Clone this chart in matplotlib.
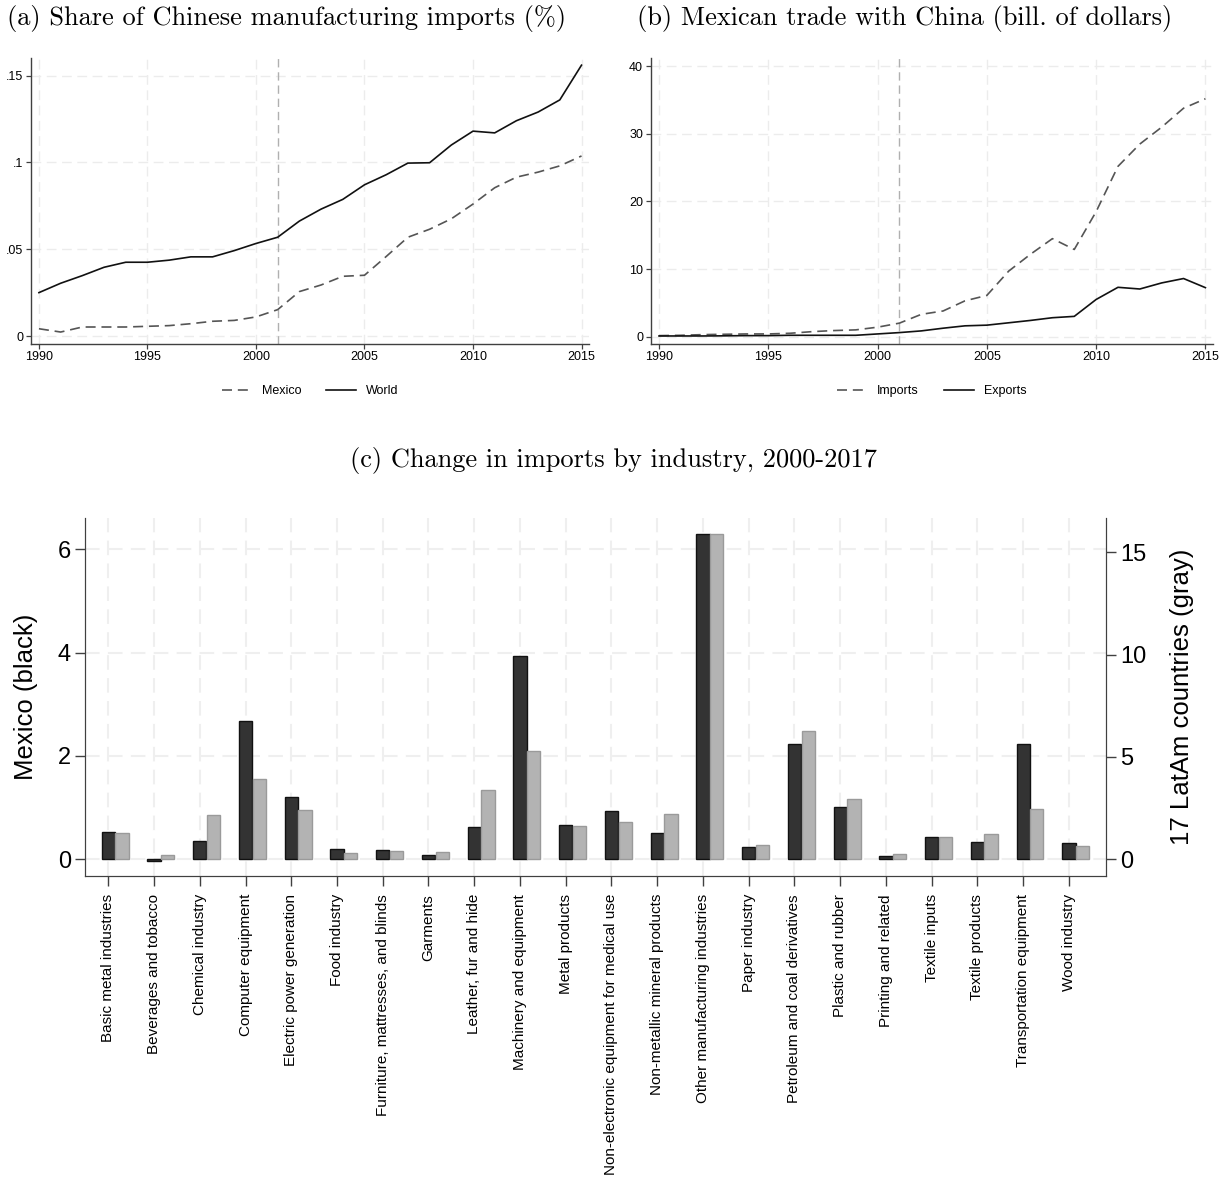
import matplotlib
matplotlib.use("Agg")
import matplotlib.pyplot as plt
import numpy as np

# ---------------- data ----------------
years = list(range(1990, 2016))
share_world = [0.025, 0.0304, 0.0348, 0.0396, 0.0425, 0.0425, 0.0437, 0.0456, 0.0456, 0.0492,
               0.0533, 0.0569, 0.0662, 0.0731, 0.0787, 0.0871, 0.0929, 0.0996, 0.0998, 0.110,
               0.118, 0.117, 0.124, 0.129, 0.136, 0.156]
share_mexico = [0.0042, 0.0023, 0.0052, 0.0052, 0.0052, 0.0056, 0.0060, 0.0071, 0.0085, 0.0090,
                0.0110, 0.0152, 0.0256, 0.0294, 0.0344, 0.0350, 0.0458, 0.0569, 0.0615, 0.0675,
                0.0760, 0.0854, 0.0915, 0.0944, 0.0980, 0.1037]
imports_bn = [0.15, 0.2, 0.3, 0.35, 0.4, 0.4, 0.5, 0.74, 0.9, 1.0,
              1.4, 2.0, 3.3, 3.8, 5.3, 6.1, 9.7, 12.2, 14.5, 12.9,
              18.5, 25.2, 28.5, 31.0, 33.8, 35.2]
exports_bn = [0.1, 0.1, 0.1, 0.12, 0.15, 0.15, 0.2, 0.2, 0.2, 0.2,
              0.4, 0.6, 0.85, 1.25, 1.6, 1.7, 2.05, 2.4, 2.8, 3.0,
              5.5, 7.3, 7.05, 7.95, 8.6, 7.25]
year_ticks = [1990, 1995, 2000, 2005, 2010, 2015]
share_ticks = [0, 0.05, 0.1, 0.15]
share_ticklabels = ["0", ".05", ".1", ".15"]
trade_ticks = [0, 10, 20, 30, 40]
event_year = 2001

industries = ["Basic metal industries", "Beverages and tobacco", "Chemical industry",
              "Computer equipment", "Electric power generation", "Food industry",
              "Furniture, mattresses, and blinds", "Garments", "Leather, fur and hide",
              "Machinery and equipment", "Metal products",
              "Non-electronic equipment for medical use", "Non-metallic mineral products",
              "Other manufacturing industries", "Paper industry",
              "Petroleum and coal derivatives", "Plastic and rubber", "Printing and related",
              "Textile inputs", "Textile products", "Transportation equipment", "Wood industry"]
mexico_change = [0.52, -0.03, 0.35, 2.67, 1.20, 0.19, 0.17, 0.08, 0.63, 3.93, 0.66,
                 0.93, 0.51, 6.30, 0.23, 2.23, 1.01, 0.06, 0.44, 0.33, 2.24, 0.31]
latam_change = [1.27, 0.20, 2.16, 3.91, 2.39, 0.31, 0.39, 0.34, 3.37, 5.28, 1.61,
                1.81, 2.21, 15.88, 0.68, 6.27, 2.93, 0.24, 1.10, 1.22, 2.47, 0.66]
left_ticks = [0, 2, 4, 6]
right_ticks = [0, 5, 10, 15]

# ---------------- style ----------------
plt.rcParams['font.family'] = ['Liberation Sans', 'DejaVu Sans']
TITLE_FONT = ['cmr10', 'DejaVu Serif']
TITLE_SIZE = 19
GRID = dict(color='#ececec', linestyle=(0, (7, 4)), linewidth=1.0)
SPINE = '#404040'

fig = plt.figure(figsize=(12.28, 11.81), dpi=100)

def style_line_axes(ax):
    for s in ['top', 'right']:
        ax.spines[s].set_visible(False)
    for s in ['left', 'bottom']:
        ax.spines[s].set_color(SPINE)
        ax.spines[s].set_linewidth(1.0)
    ax.tick_params(axis='both', length=3.5, width=0.9, color=SPINE, labelsize=9, pad=2)
    ax.set_axisbelow(True)
    ax.grid(True, **GRID)
    ax.set_xticks(year_ticks)
    ax.set_xlim(1989.62, 2015.36)

# Panel (a)
axa = fig.add_axes([0.025, 0.709, 0.4549, 0.2417])
style_line_axes(axa)
axa.axvline(event_year, color='#b0b0b0', linestyle=(0, (6, 3.5)), linewidth=1.0, zorder=1)
axa.plot(years, share_mexico, color='#555555', linestyle=(0, (6, 3.5)), linewidth=1.2, label='Mexico')
axa.plot(years, share_world, color='#111111', linewidth=1.2, label='World')
axa.set_yticks(share_ticks)
axa.set_yticklabels(share_ticklabels)
axa.set_ylim(-0.0044, 0.160)
axa.legend(loc='center', bbox_to_anchor=(0.5, -0.166), ncol=2, frameon=False,
           fontsize=9, handlelength=2.4, columnspacing=2.0)
fig.text(0.2335, 0.984, "(a) Share of Chinese manufacturing imports (%)", family=TITLE_FONT,
         fontsize=TITLE_SIZE, ha='center', va='center')

# Panel (b)
axb = fig.add_axes([0.5299, 0.709, 0.4581, 0.2417])
style_line_axes(axb)
axb.axvline(event_year, color='#b0b0b0', linestyle=(0, (6, 3.5)), linewidth=1.0, zorder=1)
axb.plot(years, imports_bn, color='#555555', linestyle=(0, (6, 3.5)), linewidth=1.2, label='Imports')
axb.plot(years, exports_bn, color='#111111', linewidth=1.2, label='Exports')
axb.set_yticks(trade_ticks)
axb.set_ylim(-1.04, 41.2)
axb.legend(loc='center', bbox_to_anchor=(0.5, -0.166), ncol=2, frameon=False,
           fontsize=9, handlelength=2.4, columnspacing=2.0)
fig.text(0.737, 0.984, "(b) Mexican trade with China (bill. of dollars)", family=TITLE_FONT,
         fontsize=TITLE_SIZE, ha='center', va='center')

# Panel (c)
axc = fig.add_axes([0.0692, 0.2583, 0.8314, 0.3028])
x = np.arange(len(industries))
width = 0.29
axc.set_axisbelow(True)
axc.grid(True, color='#efefef', linestyle=(0, (7, 4)), linewidth=1.5)
axc.bar(x, mexico_change, width=width, color='#333333', edgecolor='#111111', linewidth=1.0, zorder=3)
axc.set_xlim(-0.51, 21.81)
axc.set_ylim(-0.323, 6.60)
axc.set_yticks(left_ticks)
axc.set_xticks(x)
axc.set_xticklabels(industries, rotation=90, fontsize=11)
axc.tick_params(axis='x', length=7, width=1.0, color=SPINE, pad=6)
axc.tick_params(axis='y', length=7, width=1.0, color=SPINE, labelsize=17, pad=3)
axc.set_ylabel("Mexico (black)", fontsize=18.5, labelpad=14)
axc.spines['top'].set_visible(False)
for s in ['left', 'bottom', 'right']:
    axc.spines[s].set_color(SPINE)

axc2 = axc.twinx()
axc2.bar(x + 0.30, latam_change, width=width, color='#b3b3b3', edgecolor='#9a9a9a', linewidth=1.0, zorder=3)
axc2.set_ylim(-0.816, 16.66)
axc2.set_yticks(right_ticks)
axc2.tick_params(axis='y', length=7, width=1.0, color=SPINE, labelsize=17, pad=3)
axc2.set_ylabel("17 LatAm countries (gray)", fontsize=18.5, labelpad=17)
axc2.spines['top'].set_visible(False)
for s in ['left', 'bottom', 'right']:
    axc2.spines[s].set_color(SPINE)

fig.text(0.5, 0.610, "(c) Change in imports by industry, 2000-2017", family=TITLE_FONT,
         fontsize=TITLE_SIZE, ha='center', va='center')

fig.savefig("out.png", dpi=100)
